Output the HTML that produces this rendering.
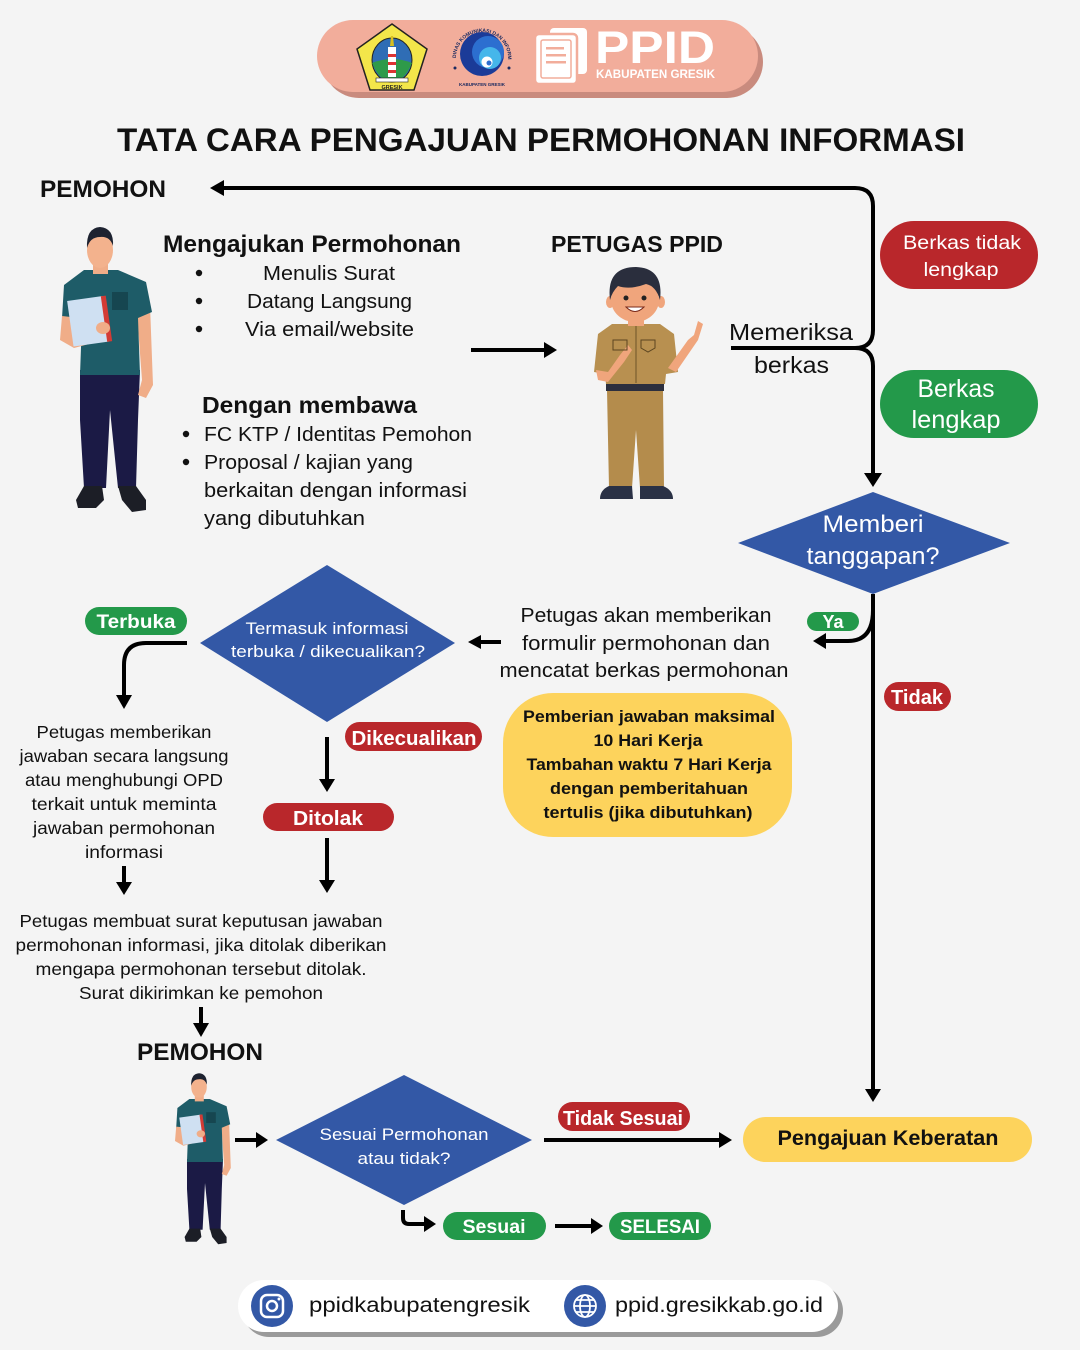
<!DOCTYPE html>
<html><head><meta charset="utf-8">
<style>
html,body{margin:0;padding:0;background:#f4f4f4;}
svg{display:block;}
text{font-family:"Liberation Sans",sans-serif;}
</style></head><body>
<svg width="1080" height="1350" viewBox="0 0 1080 1350" xmlns="http://www.w3.org/2000/svg">
<defs>
<g id="person">
  <path d="M80 370 L140 370 L138 420 L136 488 L118 488 L110 410 L106 488 L84 488 L80 420 Z" fill="#1b1a45"/>
  <path d="M84 486 L102 486 L104 500 L96 508 L78 508 L76 500 Z" fill="#1c1e26"/>
  <path d="M118 486 L136 486 L146 500 L146 510 L132 512 L122 500 Z" fill="#1c1e26"/>
  <path d="M136 300 L150 305 L153 385 L146 398 L138 395 L142 380 Z" fill="#f0ad88"/>
  <path d="M84 270 L118 270 L146 282 L152 312 L138 318 L140 375 L80 375 L82 320 L62 318 L64 285 Z" fill="#1e5c68"/>
  <rect x="112" y="292" width="16" height="18" fill="#164650"/>
  <path d="M62 316 L80 318 L78 335 L100 330 L104 340 L74 348 L60 340 Z" fill="#f0ad88"/>
  <g transform="rotate(-8 90 320)"><rect x="70" y="298" width="36" height="46" fill="#cfe0f2"/><rect x="104" y="298" width="5" height="46" fill="#d33b35"/></g>
  <ellipse cx="103" cy="328" rx="7" ry="6" fill="#f0ad88"/>
  <rect x="93" y="258" width="15" height="16" fill="#f0ad88"/>
  <ellipse cx="100" cy="250" rx="13" ry="18" fill="#f3b28d"/>
  <path d="M87 248 Q86 228 100 227 Q114 228 113 246 Q110 236 100 237 Q90 237 87 248 Z" fill="#1d2230"/>
</g>
<path id="ring" d="M456 58 A26 26 0 1 1 508 58"/>
</defs>

<rect width="1080" height="1350" fill="#f4f4f4"/>

<!-- HEADER -->
<rect x="323" y="26" width="440" height="72" rx="36" fill="#c98b7e"/>
<rect x="317" y="20" width="441" height="72" rx="36" fill="#f2ad9b"/>
<polygon points="392,24 427,49 414,90 370,90 357,49" fill="#f3e64a" stroke="#222" stroke-width="1.5"/>
<ellipse cx="392" cy="60" rx="20" ry="22" fill="#2f6db5" stroke="#222" stroke-width="1"/>
<path d="M372 63 Q392 55 412 63 Q404 82 392 82 Q380 82 372 63Z" fill="#2e9a4a"/>
<rect x="388" y="47" width="8" height="30" fill="#fff"/>
<rect x="388" y="54" width="8" height="3" fill="#d33"/>
<rect x="388" y="62" width="8" height="3" fill="#d33"/>
<rect x="388" y="70" width="8" height="3" fill="#d33"/>
<path d="M391 36 L393 36 L394 46 L390 46Z" fill="#d8c020"/>
<rect x="376" y="78" width="32" height="4" fill="#fff" stroke="#222" stroke-width="0.6"/>
<text x="392" y="89" font-size="5.5" font-weight="700" text-anchor="middle" fill="#222">GRESIK</text>

<circle cx="482" cy="54" r="22" fill="#1b3b98"/>
<circle cx="488" cy="52" r="16" fill="#2c6fd0"/>
<circle cx="490" cy="58" r="11" fill="#45b6ea"/>
<circle cx="487" cy="62" r="5.5" fill="#fff"/>
<circle cx="489" cy="63" r="2.5" fill="#2c6fd0"/>
<text font-size="5" font-weight="700" fill="#1b2a60"><textPath href="#ring">DINAS KOMUNIKASI DAN INFORMATIKA</textPath></text>
<text x="482" y="86" font-size="4.5" font-weight="700" text-anchor="middle" fill="#1b2a60">KABUPATEN GRESIK</text>
<circle cx="455" cy="68" r="1.5" fill="#1b2a60"/><circle cx="509" cy="68" r="1.5" fill="#1b2a60"/>

<rect x="550" y="28" width="37" height="46" rx="4" fill="#fff"/>
<rect x="535" y="34" width="42" height="50" rx="4" fill="#fff" stroke="#f2ad9b" stroke-width="2.5"/>
<rect x="541" y="40" width="30" height="38" rx="2" fill="none" stroke="#f2ad9b" stroke-width="1.5"/>
<rect x="546" y="47" width="18" height="2.5" fill="#f2ad9b"/>
<rect x="546" y="54" width="20" height="2.5" fill="#f2ad9b"/>
<rect x="546" y="61" width="20" height="2.5" fill="#f2ad9b"/>
<text x="595" y="63" font-size="45" font-weight="700" fill="#fff" textLength="120" lengthAdjust="spacingAndGlyphs">PPID</text>
<text x="596" y="78" font-size="11.5" font-weight="700" fill="#fff" textLength="119" lengthAdjust="spacingAndGlyphs">KABUPATEN GRESIK</text>

<!-- TITLE -->
<text x="541" y="151" font-size="32" font-weight="700" text-anchor="middle" fill="#111" textLength="848" lengthAdjust="spacingAndGlyphs">TATA CARA PENGAJUAN PERMOHONAN INFORMASI</text>

<text x="40" y="197" font-size="24" font-weight="700" fill="#111" textLength="126" lengthAdjust="spacingAndGlyphs">PEMOHON</text>

<!-- connectors -->
<g stroke="#000" stroke-width="4" fill="none">
  <path d="M731 348 H855 Q873 348 873 330 V206 Q873 188 855 188 H222"/>
  <path d="M855 348 Q873 348 873 366 V474"/>
  <line x1="471" y1="350" x2="545" y2="350"/>
  <line x1="873" y1="594" x2="873" y2="1090"/>
  <path d="M873 610 Q873 641 848 641 H826"/>
  <line x1="501" y1="642" x2="480" y2="642"/>
  <path d="M187 643 H146 Q124 643 124 665 V696"/>
  <line x1="124" y1="866" x2="124" y2="883"/>
  <line x1="327" y1="737" x2="327" y2="780"/>
  <line x1="327" y1="838" x2="327" y2="881"/>
  <line x1="201" y1="1007" x2="201" y2="1024"/>
  <line x1="235" y1="1140" x2="256" y2="1140"/>
  <line x1="544" y1="1140" x2="720" y2="1140"/>
  <path d="M403 1210 V1218 Q403 1224 409 1224 H424"/>
  <line x1="555" y1="1226" x2="591" y2="1226"/>
</g>
<g fill="#000">
  <polygon points="210,188 224,180 224,196"/>
  <polygon points="873,487 864,473 882,473"/>
  <polygon points="557,350 544,342 544,358"/>
  <polygon points="873,1102 865,1089 881,1089"/>
  <polygon points="813,641 826,633 826,649"/>
  <polygon points="468,642 481,635 481,649"/>
  <polygon points="124,709 116,695 132,695"/>
  <polygon points="124,895 116,882 132,882"/>
  <polygon points="327,792 319,779 335,779"/>
  <polygon points="327,893 319,880 335,880"/>
  <polygon points="201,1037 193,1023 209,1023"/>
  <polygon points="268,1140 256,1132 256,1148"/>
  <polygon points="732,1140 719,1132 719,1148"/>
  <polygon points="436,1224 424,1216 424,1232"/>
  <polygon points="603,1226 591,1218 591,1234"/>
</g>

<!-- main person -->
<use href="#person"/>

<!-- Mengajukan -->
<text x="163" y="252" font-size="24" font-weight="700" fill="#111" textLength="298" lengthAdjust="spacingAndGlyphs">Mengajukan Permohonan</text>
<g fill="#111"><circle cx="199" cy="273" r="3.2"/><circle cx="199" cy="301" r="3.2"/><circle cx="199" cy="329" r="3.2"/>
<circle cx="186" cy="434" r="3.2"/><circle cx="186" cy="462" r="3.2"/></g>
<g font-size="20" fill="#111">
<text x="263" y="280" textLength="132" lengthAdjust="spacingAndGlyphs">Menulis Surat</text>
<text x="247" y="308" textLength="165" lengthAdjust="spacingAndGlyphs">Datang Langsung</text>
<text x="245" y="336" textLength="169" lengthAdjust="spacingAndGlyphs">Via email/website</text>
<text x="204" y="441" textLength="268" lengthAdjust="spacingAndGlyphs">FC KTP / Identitas Pemohon</text>
<text x="204" y="469" textLength="209" lengthAdjust="spacingAndGlyphs">Proposal / kajian yang</text>
<text x="204" y="497" textLength="263" lengthAdjust="spacingAndGlyphs">berkaitan dengan informasi</text>
<text x="204" y="525" textLength="161" lengthAdjust="spacingAndGlyphs">yang dibutuhkan</text>
</g>
<text x="202" y="413" font-size="23" font-weight="700" fill="#111" textLength="215" lengthAdjust="spacingAndGlyphs">Dengan membawa</text>

<text x="551" y="252" font-size="23" font-weight="700" fill="#111" textLength="172" lengthAdjust="spacingAndGlyphs">PETUGAS PPID</text>

<!-- petugas -->
<g>
<path d="M607 390 L663 390 L664 488 L640 488 L636 430 L632 488 L609 488 Z" fill="#b48c4c"/>
<path d="M609 486 L632 486 L633 499 L600 499 Q600 490 609 486 Z" fill="#2a3145"/>
<path d="M640 486 L663 486 Q673 490 673 499 L640 499 Z" fill="#2a3145"/>
<rect x="606" y="383" width="58" height="8" fill="#2c2f3e"/>
<path d="M612 324 L660 324 L674 334 L678 372 L666 374 L665 384 L606 384 L605 374 L594 372 L598 334 Z" fill="#b89050"/>
<path d="M596 370 L608 372 L620 355 L628 345 L632 350 L624 362 L608 382 L598 380 Z" fill="#f0a57c"/>
<path d="M668 368 L676 372 L698 340 L703 324 L698 321 L694 335 L688 340 Z" fill="#f0a57c"/>
<rect x="613" y="340" width="14" height="10" fill="none" stroke="#5b4520" stroke-width="1"/>
<path d="M641 340 h14 v8 l-7 4 l-7 -4z" fill="none" stroke="#5b4520" stroke-width="1"/>
<line x1="636" y1="326" x2="636" y2="383" stroke="#5b4520" stroke-width="0.8"/>
<rect x="628" y="314" width="16" height="12" fill="#f0a57c"/>
<ellipse cx="610" cy="302" rx="4" ry="6" fill="#f0a57c"/>
<ellipse cx="661" cy="302" rx="4" ry="6" fill="#f0a57c"/>
<ellipse cx="635" cy="300" rx="24" ry="22" fill="#f0a57c"/>
<path d="M610 300 Q606 267 636 267 Q664 268 660 300 Q656 286 646 284 Q630 290 618 286 Q612 292 610 300Z" fill="#2a2e3d"/>
<circle cx="626" cy="298" r="2.5" fill="#222"/><circle cx="644" cy="298" r="2.5" fill="#222"/>
<path d="M626 307 Q635 316 644 307 Z" fill="#fff" stroke="#7a2a1a" stroke-width="1"/>
</g>

<!-- Memeriksa -->
<text x="729" y="340" font-size="23" fill="#111" textLength="124" lengthAdjust="spacingAndGlyphs">Memeriksa</text>
<text x="754" y="373" font-size="23" fill="#111" textLength="75" lengthAdjust="spacingAndGlyphs">berkas</text>

<!-- right pills -->
<rect x="880" y="221" width="158" height="68" rx="34" fill="#b9272b"/>
<text x="962" y="249" font-size="19" fill="#fff" text-anchor="middle" textLength="118" lengthAdjust="spacingAndGlyphs">Berkas tidak</text>
<text x="961" y="276" font-size="19" fill="#fff" text-anchor="middle" textLength="75" lengthAdjust="spacingAndGlyphs">lengkap</text>
<rect x="880" y="370" width="158" height="68" rx="34" fill="#23994a"/>
<text x="956" y="397" font-size="25" fill="#fff" text-anchor="middle" textLength="77" lengthAdjust="spacingAndGlyphs">Berkas</text>
<text x="956" y="428" font-size="25" fill="#fff" text-anchor="middle" textLength="89" lengthAdjust="spacingAndGlyphs">lengkap</text>

<!-- Memberi diamond -->
<polygon points="873,492 1010,543 873,594 738,543" fill="#3358a6"/>
<text x="873" y="532" font-size="24" fill="#fff" text-anchor="middle" textLength="101" lengthAdjust="spacingAndGlyphs">Memberi</text>
<text x="873" y="564" font-size="24" fill="#fff" text-anchor="middle" textLength="133" lengthAdjust="spacingAndGlyphs">tanggapan?</text>

<rect x="807" y="612" width="52" height="19" rx="9.5" fill="#23994a"/>
<text x="833" y="628" font-size="18" font-weight="700" fill="#fff" text-anchor="middle">Ya</text>
<rect x="884" y="682" width="67" height="29" rx="14.5" fill="#b9272b"/>
<text x="917" y="704" font-size="20" font-weight="700" fill="#fff" text-anchor="middle" textLength="52" lengthAdjust="spacingAndGlyphs">Tidak</text>

<g font-size="20" fill="#111" text-anchor="middle">
<text x="646" y="622" textLength="251" lengthAdjust="spacingAndGlyphs">Petugas akan memberikan</text>
<text x="646" y="650" textLength="248" lengthAdjust="spacingAndGlyphs">formulir permohonan dan</text>
<text x="644" y="677" textLength="289" lengthAdjust="spacingAndGlyphs">mencatat berkas permohonan</text>
</g>

<rect x="503" y="693" width="289" height="144" rx="50" fill="#fdd35c"/>
<g font-size="17" font-weight="700" fill="#111" text-anchor="middle">
<text x="649" y="722" textLength="252" lengthAdjust="spacingAndGlyphs">Pemberian jawaban maksimal</text>
<text x="648" y="746" textLength="109" lengthAdjust="spacingAndGlyphs">10 Hari Kerja</text>
<text x="649" y="770" textLength="245" lengthAdjust="spacingAndGlyphs">Tambahan waktu 7 Hari Kerja</text>
<text x="649" y="794" textLength="198" lengthAdjust="spacingAndGlyphs">dengan pemberitahuan</text>
<text x="648" y="818" textLength="209" lengthAdjust="spacingAndGlyphs">tertulis (jika dibutuhkan)</text>
</g>

<!-- Termasuk diamond -->
<polygon points="327,565 455,643 327,722 200,643" fill="#3358a6"/>
<text x="327" y="634" font-size="16.5" fill="#fff" text-anchor="middle" textLength="163" lengthAdjust="spacingAndGlyphs">Termasuk informasi</text>
<text x="328" y="657" font-size="16.5" fill="#fff" text-anchor="middle" textLength="194" lengthAdjust="spacingAndGlyphs">terbuka / dikecualikan?</text>

<rect x="85" y="607" width="102" height="28" rx="14" fill="#23994a"/>
<text x="136" y="628" font-size="19" font-weight="700" fill="#fff" text-anchor="middle" textLength="79" lengthAdjust="spacingAndGlyphs">Terbuka</text>

<g font-size="17.5" fill="#111" text-anchor="middle">
<text x="124" y="738" textLength="175" lengthAdjust="spacingAndGlyphs">Petugas memberikan</text>
<text x="124" y="762" textLength="209" lengthAdjust="spacingAndGlyphs">jawaban secara langsung</text>
<text x="124" y="786" textLength="198" lengthAdjust="spacingAndGlyphs">atau menghubungi OPD</text>
<text x="124" y="810" textLength="185" lengthAdjust="spacingAndGlyphs">terkait untuk meminta</text>
<text x="124" y="834" textLength="182" lengthAdjust="spacingAndGlyphs">jawaban permohonan</text>
<text x="124" y="858" textLength="78" lengthAdjust="spacingAndGlyphs">informasi</text>
</g>

<rect x="345" y="722" width="137" height="29" rx="14.5" fill="#b9272b"/>
<text x="414" y="745" font-size="20" font-weight="700" fill="#fff" text-anchor="middle" textLength="125" lengthAdjust="spacingAndGlyphs">Dikecualikan</text>
<rect x="263" y="803" width="131" height="28" rx="14" fill="#b9272b"/>
<text x="328" y="825" font-size="20" font-weight="700" fill="#fff" text-anchor="middle" textLength="70" lengthAdjust="spacingAndGlyphs">Ditolak</text>

<g font-size="17.5" fill="#111" text-anchor="middle">
<text x="201" y="927" textLength="363" lengthAdjust="spacingAndGlyphs">Petugas membuat surat keputusan jawaban</text>
<text x="201" y="951" textLength="371" lengthAdjust="spacingAndGlyphs">permohonan informasi, jika ditolak diberikan</text>
<text x="201" y="975" textLength="331" lengthAdjust="spacingAndGlyphs">mengapa permohonan tersebut ditolak.</text>
<text x="201" y="999" textLength="244" lengthAdjust="spacingAndGlyphs">Surat dikirimkan ke pemohon</text>
</g>
<text x="200" y="1060" font-size="24" font-weight="700" fill="#111" text-anchor="middle" textLength="126" lengthAdjust="spacingAndGlyphs">PEMOHON</text>

<!-- bottom -->
<use href="#person" transform="translate(139 937) scale(0.6)"/>
<polygon points="404,1075 532,1140 404,1205 276,1140" fill="#3358a6"/>
<text x="404" y="1140" font-size="17" fill="#fff" text-anchor="middle" textLength="169" lengthAdjust="spacingAndGlyphs">Sesuai Permohonan</text>
<text x="404" y="1164" font-size="17" fill="#fff" text-anchor="middle" textLength="93" lengthAdjust="spacingAndGlyphs">atau tidak?</text>

<rect x="558" y="1102" width="132" height="29" rx="14.5" fill="#b9272b"/>
<text x="623" y="1125" font-size="20" font-weight="700" fill="#fff" text-anchor="middle" textLength="120" lengthAdjust="spacingAndGlyphs">Tidak Sesuai</text>
<rect x="743" y="1117" width="289" height="45" rx="22.5" fill="#fdd35c"/>
<text x="888" y="1145" font-size="21" font-weight="700" fill="#111" text-anchor="middle" textLength="221" lengthAdjust="spacingAndGlyphs">Pengajuan Keberatan</text>
<rect x="443" y="1212" width="103" height="28" rx="14" fill="#23994a"/>
<text x="494" y="1233" font-size="19" font-weight="700" fill="#fff" text-anchor="middle" textLength="63" lengthAdjust="spacingAndGlyphs">Sesuai</text>
<rect x="609" y="1212" width="102" height="28" rx="14" fill="#23994a"/>
<text x="660" y="1233" font-size="19" font-weight="700" fill="#fff" text-anchor="middle" textLength="80" lengthAdjust="spacingAndGlyphs">SELESAI</text>

<!-- footer -->
<rect x="243" y="1285" width="600" height="52" rx="26" fill="#9a9a9a"/>
<rect x="238" y="1280" width="600" height="52" rx="26" fill="#fff"/>
<circle cx="272" cy="1306" r="21" fill="#3358a6"/>
<rect x="261" y="1295" width="22" height="22" rx="6" fill="none" stroke="#fff" stroke-width="2.5"/>
<circle cx="272" cy="1306" r="5" fill="none" stroke="#fff" stroke-width="2.5"/>
<circle cx="279" cy="1299" r="1.5" fill="#fff"/>
<text x="309" y="1312" font-size="21" fill="#111" textLength="221" lengthAdjust="spacingAndGlyphs">ppidkabupatengresik</text>
<circle cx="585" cy="1306" r="21" fill="#3358a6"/>
<g fill="none" stroke="#fff" stroke-width="1.8">
<circle cx="585" cy="1306" r="11"/>
<ellipse cx="585" cy="1306" rx="5" ry="11"/>
<line x1="574" y1="1306" x2="596" y2="1306"/>
<line x1="576" y1="1300" x2="594" y2="1300"/>
<line x1="576" y1="1312" x2="594" y2="1312"/>
</g>
<text x="615" y="1312" font-size="21" fill="#111" textLength="208" lengthAdjust="spacingAndGlyphs">ppid.gresikkab.go.id</text>
</svg>
</body></html>
